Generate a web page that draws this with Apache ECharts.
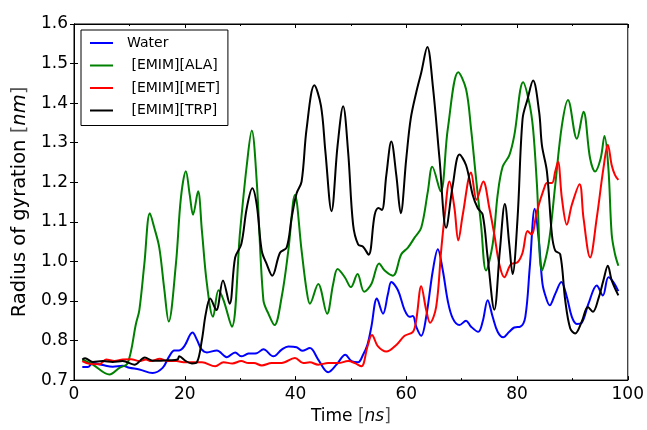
<!DOCTYPE html>
<html>
<head>
<meta charset="utf-8">
<script src="https://cdn.jsdelivr.net/npm/echarts@6/dist/echarts.min.js"></script>
<style>html,body{margin:0;padding:0;background:#fff}#c{width:647px;height:430px}</style>
</head>
<body>
<div id="c"></div>
<script>
const seriesNames = ['Water', ' [EMIM][ALA]', ' [EMIM][MET]', ' [EMIM][TRP]'];
const seriesColors = ['#0000ff', '#008000', '#ff0000', '#000000'];
const xTicks = [0, 20, 40, 60, 80, 100];
const yTicks = [0.7, 0.8, 0.9, 1.0, 1.1, 1.2, 1.3, 1.4, 1.5, 1.6];

const waterData = [[1.5,0.733],[2.5,0.733],[3.4,0.743],[5.2,0.738],[7.0,0.734],[8.8,0.736],[10.0,0.731],[11.8,0.727],[14.2,0.718],[16.0,0.731],[17.2,0.76],[18.1,0.775],[19.0,0.775],[19.9,0.785],[21.4,0.82],[22.2,0.802],[23.0,0.778],[24.0,0.77],[25.8,0.775],[27.6,0.758],[29.1,0.77],[30.2,0.76],[31.5,0.767],[33.0,0.768],[34.2,0.778],[36.0,0.76],[37.5,0.777],[38.7,0.785],[40.2,0.783],[41.2,0.774],[42.6,0.781],[44.1,0.752],[45.9,0.72],[47.4,0.739],[49.0,0.764],[50.1,0.748],[51.3,0.745],[52.2,0.764],[53.0,0.79],[53.7,0.835],[54.7,0.906],[55.8,0.868],[56.7,0.918],[57.3,0.948],[58.5,0.927],[59.7,0.877],[60.6,0.86],[61.2,0.862],[61.8,0.835],[62.7,0.812],[63.6,0.86],[64.8,0.977],[65.7,1.031],[66.6,0.977],[67.5,0.9],[68.4,0.856],[69.6,0.839],[70.8,0.85],[71.7,0.835],[73.0,0.822],[73.8,0.848],[74.7,0.902],[75.6,0.86],[76.5,0.822],[77.5,0.808],[78.6,0.822],[79.5,0.833],[80.6,0.835],[81.5,0.86],[82.3,0.985],[83.2,1.133],[84.0,1.043],[84.6,0.943],[85.2,0.91],[85.9,0.889],[86.9,0.918],[88.0,0.948],[89.0,0.91],[89.9,0.86],[90.8,0.842],[91.7,0.845],[92.9,0.893],[94.4,0.939],[95.5,0.914],[96.5,0.96],[97.4,0.948],[98.3,0.925]];

const alaData = [[1.5,0.752],[3.4,0.739],[6.4,0.714],[8.2,0.731],[9.7,0.743],[11.2,0.843],[11.8,0.877],[12.7,0.993],[13.7,1.122],[14.5,1.085],[15.4,1.035],[16.3,0.93],[17.1,0.848],[18.4,0.993],[19.3,1.16],[20.2,1.228],[20.9,1.168],[21.5,1.118],[22.4,1.177],[23.1,1.077],[24.0,0.943],[25.1,0.86],[26.1,0.927],[27.0,0.902],[28.5,0.835],[30.0,1.077],[31.2,1.243],[32.1,1.331],[33.0,1.202],[34.2,0.902],[35.1,0.868],[36.2,0.839],[37.5,0.91],[38.7,1.027],[39.9,1.168],[41.1,1.027],[42.0,0.927],[42.6,0.893],[44.1,0.943],[45.7,0.868],[46.8,0.943],[47.6,0.981],[48.9,0.96],[50.0,0.935],[51.2,0.968],[52.4,0.923],[53.7,0.943],[55.1,0.995],[56.1,0.977],[57.6,0.964],[59.1,1.018],[60.3,1.035],[61.5,1.06],[62.7,1.085],[63.9,1.177],[64.7,1.239],[66.2,1.177],[67.5,1.335],[69.4,1.478],[70.8,1.435],[71.7,1.335],[72.6,1.21],[73.5,1.093],[74.4,0.977],[75.6,1.043],[76.5,1.168],[77.4,1.239],[78.6,1.268],[79.5,1.318],[81.1,1.453],[82.2,1.402],[82.9,1.335],[83.6,1.193],[84.5,0.977],[85.7,1.043],[86.9,1.193],[88.1,1.343],[89.2,1.408],[90.8,1.31],[92.0,1.378],[93.2,1.26],[94.1,1.227],[95.1,1.26],[95.8,1.317],[96.5,1.235],[97.1,1.068],[97.7,1.018],[98.3,0.989]];

const metData = [[1.5,0.748],[2.8,0.741],[4.6,0.74],[5.8,0.752],[7.3,0.748],[8.8,0.752],[10.3,0.753],[11.8,0.748],[13.0,0.752],[13.9,0.748],[15.5,0.754],[16.6,0.749],[18.5,0.748],[20.2,0.745],[21.4,0.745],[23.1,0.745],[25.5,0.735],[27.0,0.745],[28.6,0.742],[30.2,0.748],[31.5,0.743],[32.5,0.743],[33.9,0.737],[35.7,0.743],[37.5,0.743],[39.9,0.756],[41.4,0.743],[42.6,0.745],[44.1,0.739],[45.9,0.743],[47.7,0.743],[49.5,0.748],[50.7,0.743],[51.9,0.735],[53.0,0.785],[53.8,0.814],[54.9,0.785],[56.4,0.772],[58.2,0.789],[59.7,0.812],[61.2,0.822],[61.8,0.852],[62.7,0.937],[63.6,0.877],[64.3,0.845],[65.4,0.885],[66.3,1.027],[66.9,1.11],[67.8,1.202],[68.7,1.135],[69.4,1.053],[70.2,1.118],[71.7,1.225],[72.7,1.156],[73.9,1.202],[75.0,1.135],[75.9,1.068],[76.8,0.993],[77.7,0.96],[78.9,0.993],[80.1,0.998],[81.0,1.022],[81.9,1.077],[82.6,1.068],[83.6,1.127],[84.9,1.185],[85.4,1.198],[86.3,1.198],[86.9,1.227],[87.4,1.252],[88.1,1.16],[89.0,1.093],[89.9,1.143],[91.3,1.195],[92.0,1.11],[93.2,1.01],[94.4,1.11],[95.6,1.235],[96.4,1.295],[97.1,1.243],[97.7,1.218],[98.3,1.206]];

const trpData = [[1.5,0.752],[2.0,0.755],[3.4,0.746],[5.2,0.748],[7.0,0.746],[8.8,0.748],[10.9,0.739],[12.8,0.757],[14.2,0.749],[15.7,0.749],[17.2,0.75],[18.7,0.752],[19.0,0.76],[20.2,0.748],[21.3,0.742],[22.2,0.745],[23.1,0.802],[23.8,0.868],[24.6,0.906],[25.7,0.877],[26.9,0.952],[28.1,0.893],[29.1,1.01],[30.2,1.043],[31.2,1.135],[32.2,1.185],[33.0,1.143],[33.9,1.027],[34.8,0.993],[35.8,0.964],[37.2,1.022],[38.4,1.035],[39.3,1.11],[40.2,1.172],[41.1,1.202],[42.0,1.335],[43.4,1.445],[44.6,1.393],[45.4,1.277],[46.5,1.127],[47.6,1.293],[48.6,1.392],[49.5,1.277],[50.4,1.093],[51.3,1.043],[52.2,1.037],[53.2,1.017],[54.3,1.118],[55.0,1.135],[55.6,1.13],[56.4,1.218],[57.3,1.303],[58.2,1.218],[59.0,1.122],[60.0,1.26],[60.8,1.36],[61.8,1.427],[62.7,1.477],[63.8,1.542],[64.8,1.443],[66.0,1.26],[67.2,1.085],[68.4,1.193],[69.6,1.27],[70.8,1.243],[72.0,1.168],[72.9,1.135],[73.8,1.118],[74.7,1.01],[75.9,0.878],[76.9,1.027],[77.8,1.145],[78.6,1.043],[79.2,0.968],[80.1,1.11],[81.0,1.36],[81.9,1.41],[82.9,1.457],[84.0,1.377],[84.5,1.293],[85.4,1.227],[86.3,1.068],[86.9,1.027],[87.8,1.018],[88.7,0.902],[89.6,0.831],[90.5,0.818],[91.7,0.848],[92.8,0.885],[93.7,0.873],[94.7,0.906],[95.6,0.952],[96.4,0.989],[97.1,0.952],[98.3,0.914]];

const allData = [waterData, alaData, metData, trpData];

const chart = echarts.init(document.getElementById('c'), null, {renderer: 'canvas'});
const FONT = 'DejaVu Sans';
const axisLine = {show: true, lineStyle: {color: '#000', width: 1}};
function richName(size) {
  return {
    color: '#000', fontSize: size, fontFamily: FONT,
    rich: {
      a: {fontSize: size, fontFamily: FONT, color: '#000'},
      b: {fontSize: size, fontFamily: FONT, color: '#555'},
      i: {fontSize: size, fontFamily: FONT, fontStyle: 'italic', color: '#000'}
    }
  };
}
function xAx(pos, labels) {
  return {
    type: 'value', position: pos, min: xTicks[0], max: xTicks[xTicks.length - 1],
    interval: xTicks[1] - xTicks[0],
    axisLine: axisLine,
    axisTick: {show: true, inside: true, length: 4, lineStyle: {color: '#000'}},
    minorTick: {show: true, splitNumber: 2, length: 2, lineStyle: {color: '#000'}},
    splitLine: {show: false},
    axisLabel: {show: labels, color: '#000', fontSize: 17, fontFamily: FONT, margin: 6},
    name: labels ? '{a|Time }{b|[}{i|ns}{b|]}' : '',
    nameLocation: 'middle', nameGap: 22,
    nameTextStyle: richName(17)
  };
}
function yAx(pos, labels) {
  return {
    type: 'value', position: pos, min: yTicks[0], max: yTicks[yTicks.length - 1],
    interval: 0.1,
    axisLine: axisLine,
    axisTick: {show: true, inside: true, length: 4, lineStyle: {color: '#000'}},
    splitLine: {show: false},
    axisLabel: {show: labels, color: '#000', fontSize: 17, fontFamily: FONT, margin: 6,
      formatter: v => v.toFixed(1)},
    name: labels ? '{a|Radius of gyration }{b|[}{i|nm}{b|]}' : '',
    nameLocation: 'middle', nameGap: 42, nameRotate: 90,
    nameTextStyle: richName(19.5)
  };
}

const option = {
  animation: false,
  backgroundColor: '#fff',
  grid: {left: 74, right: 16, top: 24, bottom: 46, show: true, borderColor: '#000', borderWidth: 1},
  xAxis: [xAx('bottom', true), xAx('top', false)],
  yAxis: [yAx('left', true), yAx('right', false)],
  legend: {
    orient: 'vertical', left: 81, top: 30,
    data: seriesNames,
    icon: 'rect', itemWidth: 23, itemHeight: 2, itemGap: 6.5,
    backgroundColor: '#fff', borderColor: '#000', borderWidth: 1,
    padding: [5, 8, 7, 9],
    textStyle: {color: '#000', fontSize: 14, fontFamily: FONT, padding: [0, 0, 0, 9], lineHeight: 16}
  },
  series: seriesNames.map((n, i) => ({
    name: n, type: 'line', data: allData[i], xAxisIndex: 0, yAxisIndex: 0,
    smooth: 0.35, showSymbol: false, symbol: 'none',
    lineStyle: {color: seriesColors[i], width: 2},
    itemStyle: {color: seriesColors[i]},
    z: 2 + i
  }))
};
chart.setOption(option);
</script>
</body>
</html>
